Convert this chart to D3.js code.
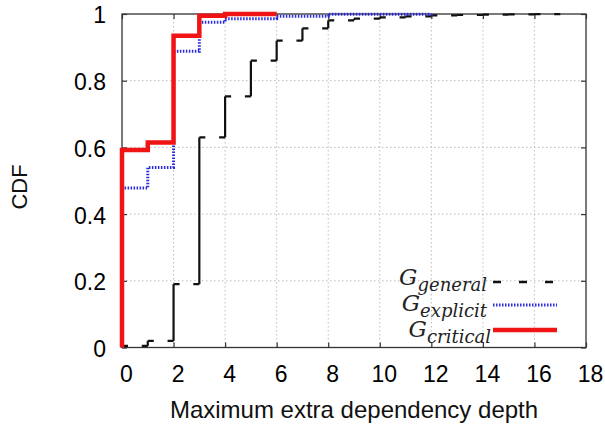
<!DOCTYPE html>
<html>
<head>
<meta charset="utf-8">
<script src="https://cdn.jsdelivr.net/npm/d3@7"></script>
<style>
  html, body { margin: 0; padding: 0; background: #fff; }
  svg { display: block; }
</style>
</head>
<body>
<svg id="chart" width="605" height="426"></svg>
<script>
// ---- data ----
const xTicks = [0, 2, 4, 6, 8, 10, 12, 14, 16, 18];
const yTicks = [0, 0.2, 0.4, 0.6, 0.8, 1];

const generalX = [0, 1, 2, 3, 4, 5, 6, 7, 8, 9, 10, 11, 12, 13, 14, 15, 16, 17];
const generalY = [0.005, 0.02, 0.19, 0.63, 0.753, 0.86, 0.92, 0.957, 0.981, 0.986, 0.99, 0.993, 0.996, 0.997, 0.998, 0.999, 0.9995, 1.0];

const explicitX = [0, 0, 1, 2, 3, 4, 6, 8, 12];
const explicitY = [0, 0.478, 0.54, 0.888, 0.975, 0.986, 0.993, 0.999, 1.0];

const criticalX = [0, 0, 1, 2, 3, 4, 6];
const criticalY = [0, 0.592, 0.615, 0.935, 0.995, 1.0, 1.0];

const legendNames = ["general", "explicit", "critical"];

// ---- layout ----
const svg = d3.select("#chart");
const x = d3.scaleLinear().domain([0, 18]).range([122, 586]);
const y = d3.scaleLinear().domain([0, 1]).range([347.5, 14]);
const X0 = x.range()[0], X1 = x.range()[1], Y0 = y.range()[0], Y1 = y.range()[1];

// grid
const grid = svg.append("g");
grid.selectAll(".gx").data(xTicks.filter(d => d > 0 && d < 18)).join("line")
  .attr("x1", d => x(d)).attr("x2", d => x(d)).attr("y1", Y0).attr("y2", Y1)
  .attr("stroke", "#bdbdbd").attr("stroke-width", 1).attr("stroke-dasharray", "1.5,2.5");
grid.selectAll(".gy").data(yTicks.filter(d => d > 0 && d < 1)).join("line")
  .attr("y1", d => y(d)).attr("y2", d => y(d)).attr("x1", X0).attr("x2", X1)
  .attr("stroke", "#bdbdbd").attr("stroke-width", 1).attr("stroke-dasharray", "1.5,2.5");

// axes
const fmt = d3.format("~g");
const axB = svg.append("g").attr("transform", `translate(0,${Y0})`)
  .call(d3.axisBottom(x).tickValues(xTicks).tickFormat(fmt).tickSize(-5).tickPadding(18));
const axL = svg.append("g").attr("transform", `translate(${X0},0)`)
  .call(d3.axisLeft(y).tickValues(yTicks).tickFormat(fmt).tickSize(-5).tickPadding(16));
const axT = svg.append("g").attr("transform", `translate(0,${Y1})`)
  .call(d3.axisTop(x).tickValues(xTicks).tickFormat("").tickSize(-5));
const axR = svg.append("g").attr("transform", `translate(${X1},0)`)
  .call(d3.axisRight(y).tickValues(yTicks).tickFormat("").tickSize(-5));
[axB, axL, axT, axR].forEach(a => {
  a.select(".domain").remove();
  a.selectAll(".tick line").attr("stroke", "#333").attr("stroke-width", 1.2);
  a.selectAll("text").attr("font-family", "'Liberation Sans', Arial, sans-serif")
    .attr("font-size", 23).attr("fill", "#000");
});
axB.selectAll("text").attr("dx", 4);
axL.selectAll("text").attr("dy", "0.39em");

// border
svg.append("rect").attr("x", X0).attr("y", Y1).attr("width", X1 - X0).attr("height", Y0 - Y1)
  .attr("fill", "none").attr("stroke", "#333").attr("stroke-width", 1.3);

// axis titles
svg.append("text").attr("x", (X0 + X1) / 2 + 0).attr("y", 418)
  .attr("text-anchor", "middle").attr("font-family", "'Liberation Sans', Arial, sans-serif")
  .attr("font-size", 24).attr("fill", "#111").text("Maximum extra dependency depth");
svg.append("text").attr("transform", "translate(27,187) rotate(-90)")
  .attr("text-anchor", "middle").attr("font-family", "'Liberation Sans', Arial, sans-serif")
  .attr("font-size", 22).attr("fill", "#111").text("CDF");

// ---- series ----
const line = d3.line().x(d => x(d[0])).y(d => y(d[1])).curve(d3.curveStepAfter);

// general: dashed steps (horizontal pieces dashed, verticals solid)
const gen = svg.append("g");
const genPts = d3.zip(generalX, generalY);
for (let i = 0; i < genPts.length - 1; i++) {
  const [xa, ya] = genPts[i], [xb, yb] = genPts[i + 1];
  const len = x(xb) - x(xa);
  gen.append("path").attr("d", d3.line()([[x(xa), y(ya)], [x(xb), y(ya)]]))
    .attr("fill", "none").attr("stroke", "#111").attr("stroke-width", 2.2)
    .attr("stroke-dasharray", `6,${Math.max(0, len - 12)},6`);
  gen.append("path").attr("d", d3.line()([[x(xb), y(ya)], [x(xb), y(yb)]]))
    .attr("fill", "none").attr("stroke", "#111").attr("stroke-width", 2.2);
}

svg.append("path").datum(d3.zip(explicitX, explicitY)).attr("d", line)
  .attr("fill", "none").attr("stroke", "#2a2ae0").attr("stroke-width", 3)
  .attr("stroke-dasharray", "1.5,1.5");

svg.append("path").datum(d3.zip(criticalX, criticalY)).attr("d", line)
  .attr("fill", "none").attr("stroke", "#f01414").attr("stroke-width", 4.5);

// ---- legend ----
const legLineY = [282, 305, 330];
const legTextY = [285, 311, 337];
const legRight = [487, 487, 491];
const legStyles = [
  { stroke: "#111", w: 2.5, dash: "8,18" },
  { stroke: "#2a2ae0", w: 3, dash: "1.5,1.5" },
  { stroke: "#f01414", w: 4.5, dash: null }
];
const leg = svg.append("g");
legendNames.forEach((name, i) => {
  const t = leg.append("text").attr("x", legRight[i]).attr("y", legTextY[i])
    .attr("text-anchor", "end").attr("font-family", "'DejaVu Serif', serif")
    .attr("font-style", "italic").attr("fill", "#222");
  t.append("tspan").attr("font-size", 23).text("G");
  t.append("tspan").attr("font-size", 18).attr("dy", 6).text(name);
  const s = legStyles[i];
  leg.append("line").attr("x1", 493).attr("x2", 557).attr("y1", legLineY[i]).attr("y2", legLineY[i])
    .attr("stroke", s.stroke).attr("stroke-width", s.w)
    .attr("stroke-dasharray", s.dash);
});
</script>
</body>
</html>
